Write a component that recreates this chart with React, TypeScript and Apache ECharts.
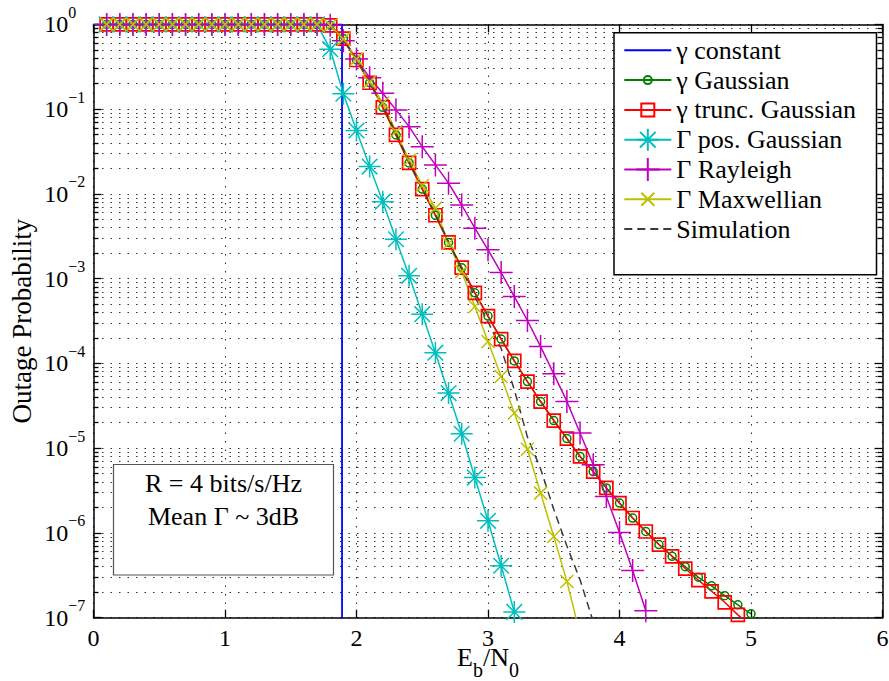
import React, { useEffect, useRef } from "react";
import * as echarts from "echarts";

// Eb/N0 grid shared by every curve (0.0 … 5.0 in steps of 0.1)
const ebn0 = [
  0, 0.1, 0.2, 0.3, 0.4, 0.5, 0.6, 0.7, 0.8, 0.9, 1.0, 1.1, 1.2, 1.3, 1.4, 1.5,
  1.6, 1.7, 1.8, 1.9, 2.0, 2.1, 2.2, 2.3, 2.4, 2.5, 2.6, 2.7, 2.8, 2.9, 3.0,
  3.1, 3.2, 3.3, 3.4, 3.5, 3.6, 3.7, 3.8, 3.9, 4.0, 4.1, 4.2, 4.3, 4.4, 4.5,
  4.6, 4.7, 4.8, 4.9, 5.0,
];

// γ constant: a hard threshold
const constantEbn0 = [0, 1.89, 1.89];
const constantOutage = [1, 1, 1e-9];

// outage probabilities, indexed like ebn0 (null = not simulated at that point)
const gaussianOutage = [
  null, 1, 1, 1, 1, 1, 1, 1, 1, 1, 1, 1, 1, 1, 1, 1, 1, 1,
  0.975, 0.68, 0.38, 0.205, 0.105, 0.0497, 0.0232, 0.0114, 0.0056, 0.00268,
  0.00135, 6.8e-4, 3.62e-4, 1.94e-4, 1.07e-4, 6.1e-5, 3.55e-5, 2.12e-5, 1.3e-5,
  8.0e-6, 5.3e-6, 3.4e-6, 2.25e-6, 1.5e-6, 1.04e-6, 7.3e-7, 5.3e-7, 4.0e-7,
  3.0e-7, 2.38e-7, 1.82e-7, 1.42e-7, 1.11e-7,
];
const truncGaussianOutage = [
  null, 1, 1, 1, 1, 1, 1, 1, 1, 1, 1, 1, 1, 1, 1, 1, 1, 1,
  0.975, 0.68, 0.38, 0.205, 0.105, 0.0497, 0.0232, 0.0114, 0.0056, 0.00268,
  0.00135, 6.8e-4, 3.62e-4, 1.94e-4, 1.07e-4, 6.1e-5, 3.55e-5, 2.12e-5, 1.3e-5,
  8.0e-6, 5.3e-6, 3.4e-6, 2.25e-6, 1.5e-6, 1.04e-6, 7.3e-7, 5.3e-7, 3.8e-7,
  2.77e-7, 2.05e-7, 1.52e-7, 1.08e-7, 8e-8,
];
const posGaussianOutage = [
  null, 1, 1, 1, 1, 1, 1, 1, 1, 1, 1, 1, 1, 1, 1, 1, 1, 1,
  0.51, 0.152, 0.056, 0.021, 0.0081, 0.00292, 0.00108, 3.81e-4, 1.34e-4,
  4.47e-5, 1.48e-5, 4.5e-6, 1.39e-6, 4.1e-7, 1.17e-7,
];
const rayleighOutage = [
  null, 1, 1, 1, 1, 1, 1, 1, 1, 1, 1, 1, 1, 1, 1, 1, 1, 1,
  0.98, 0.64, 0.39, 0.235, 0.154, 0.098, 0.0622, 0.0361, 0.022, 0.0134, 0.0074,
  3.94e-3, 2.19e-3, 1.18e-3, 6.15e-4, 3.21e-4, 1.58e-4, 7.54e-5, 3.56e-5,
  1.51e-5, 6.37e-6, 2.69e-6, 1.01e-6, 3.61e-7, 1.21e-7,
];
const maxwellianOutage = [
  null, 1, 1, 1, 1, 1, 1, 1, 1, 1, 1, 1, 1, 1, 1, 1, 1, 1,
  0.97, 0.67, 0.39, 0.21, 0.118, 0.054, 0.025, 0.0125, 0.0068, 0.0026, 1.21e-3,
  4.7e-4, 1.81e-4, 7.0e-5, 2.6e-5, 9.7e-6, 2.95e-6, 9.1e-7, 2.68e-7, 6.4e-8,
];
const simulationOutage = [
  1, 1, 1, 1, 1, 1, 1, 1, 1, 1, 1, 1, 1, 1, 1, 1, 1, 1,
  0.97, 0.67, 0.39, 0.21, 0.11, 0.052, 0.024, 0.0118, 0.0058, 0.0027, 1.3e-3,
  6.1e-4, 3.1e-4, 1.5e-4, 4.9e-5, 1.35e-5, 5.7e-6, 1.9e-6, 7e-7, 2.8e-7, 9e-8,
];

const seriesNames = [
  "γ constant",
  "γ Gaussian",
  "γ trunc. Gaussian",
  "Γ pos. Gaussian",
  "Γ Rayleigh",
  "Γ Maxwellian",
  "Simulation",
];

const xTicks = [0, 1, 2, 3, 4, 5, 6];
const decades = [1e-7, 1e-6, 1e-5, 1e-4, 1e-3, 1e-2, 1e-1, 1];
const minorMultipliers = [2, 3, 4, 5, 6, 7, 8, 9];

const annotationLines = ["R = 4 bits/s/Hz", "Mean Γ ~ 3dB"];

const FONT = "'Liberation Serif', 'Times New Roman', serif";

// marker outlines drawn inside a common 24×24 frame so that one symbolSize fits all
const FRAME = "M0,0 M24,24 ";
const MARK = {
  none: "path://M0,0 M24,24",
  circle: "path://" + FRAME + "M8,12 A4,4 0 1 1 16,12 A4,4 0 1 1 8,12 Z",
  square: "path://" + FRAME + "M5.5,5.5 L18.5,5.5 L18.5,18.5 L5.5,18.5 Z",
  star:
    "path://" +
    FRAME +
    "M1,12 L23,12 M12,1 L12,23 M4.2,4.2 L19.8,19.8 M4.2,19.8 L19.8,4.2",
  plus: "path://" + FRAME + "M0.5,12 L23.5,12 M12,0.5 L12,23.5",
  cross: "path://" + FRAME + "M5.5,5.5 L18.5,18.5 M5.5,18.5 L18.5,5.5",
};

function pairs(xs: number[], ys: (number | null)[]) {
  const out: [number, number][] = [];
  ys.forEach((y, i) => {
    if (y !== null) out.push([xs[i], y]);
  });
  return out;
}

function curve(
  name: string,
  data: [number, number][],
  color: string,
  symbol: string,
  extra: Record<string, unknown> = {}
) {
  return {
    type: "line",
    name,
    data,
    xAxisIndex: 0,
    yAxisIndex: 0,
    symbol,
    symbolSize: 24,
    showSymbol: symbol !== MARK.none,
    lineStyle: { color, width: 1.5 },
    itemStyle: { color: "transparent", borderColor: color, borderWidth: 1.5 },
    emphasis: { disabled: true },
    silent: true,
    z: 2,
    ...extra,
  };
}

function exponentText(v: number) {
  const e = Math.round(Math.log10(v));
  return e === 0 ? "0" : "−" + Math.abs(e);
}

// plot box and the raise of the decade exponents above their "10"
const PLOT = { left: 93.5, right: 6.5, top: 24.4, bottom: 63.3 };
const SUP_RAISE = 12;

function buildOption() {
  const minorTicks: number[] = [];
  decades.slice(0, -1).forEach((d) =>
    minorMultipliers.forEach((m) => minorTicks.push(m * d))
  );

  const axisLine = { color: "#000", width: 1.5 };
  const dotted = { color: "#333", width: 1.1, type: [1.5, 7] };
  const tickStyle = { color: "#000", width: 1.3 };
  const labelGap = 25.2;

  const logBase = {
    type: "log",
    logBase: 10,
    min: decades[0],
    max: decades[decades.length - 1],
    splitNumber: 7,
  };
  const hidden = {
    axisLine: { show: false, onZero: false },
    axisTick: { show: false },
    axisLabel: { show: false },
    splitLine: { show: false },
  };

  return {
    animation: false,
    textStyle: { fontFamily: FONT },
    grid: [
      { ...PLOT, containLabel: false, outerBoundsMode: "none" },
      // same box shifted up: carries only the exponent labels
      {
        left: PLOT.left,
        right: PLOT.right,
        top: PLOT.top - SUP_RAISE,
        bottom: PLOT.bottom + SUP_RAISE,
        containLabel: false,
        outerBoundsMode: "none",
      },
    ],
    xAxis: [
      {
        type: "value",
        gridIndex: 0,
        min: xTicks[0],
        max: xTicks[xTicks.length - 1],
        interval: 1,
        position: "bottom",
        axisLine: { show: true, onZero: false, lineStyle: axisLine },
        axisTick: { show: true, inside: true, length: 8, lineStyle: tickStyle },
        axisLabel: {
          show: true,
          margin: 13,
          fontSize: 24,
          lineHeight: 14,
          color: "#000",
          fontFamily: FONT,
        },
        splitLine: { show: true, lineStyle: dotted },
        name: "{m|E}{sub|b}{m|/N}{sub|0}",
        nameLocation: "middle",
        nameGap: 27,
        nameMoveOverlap: false,
        nameTextStyle: {
          color: "#000",
          fontFamily: FONT,
          fontSize: 26,
          rich: {
            m: { fontSize: 26, lineHeight: 26, fontFamily: FONT, color: "#000" },
            sub: {
              fontSize: 20,
              lineHeight: 20,
              padding: [24, 0, 0, 0],
              fontFamily: FONT,
              color: "#000",
            },
          },
        },
      },
      {
        type: "value",
        gridIndex: 0,
        min: xTicks[0],
        max: xTicks[xTicks.length - 1],
        interval: 1,
        position: "top",
        axisLine: { show: true, onZero: false, lineStyle: axisLine },
        axisTick: { show: true, inside: true, length: 8, lineStyle: tickStyle },
        axisLabel: { show: false },
        splitLine: { show: false },
      },
      {
        type: "value",
        gridIndex: 1,
        min: xTicks[0],
        max: xTicks[xTicks.length - 1],
        show: false,
        ...hidden,
      },
    ],
    yAxis: [
      {
        // decades: ticks, grid and the "10" base of each label
        ...logBase,
        gridIndex: 0,
        position: "left",
        axisLine: { show: true, onZero: false, lineStyle: axisLine },
        axisTick: { show: true, inside: true, length: 8, lineStyle: tickStyle },
        axisLabel: {
          show: true,
          margin: labelGap,
          fontSize: 24,
          color: "#000",
          fontFamily: FONT,
          formatter: () => "10",
        },
        splitLine: { show: true, lineStyle: dotted },
        name: "Outage Probability",
        nameLocation: "middle",
        nameGap: 58,
        nameMoveOverlap: false,
        nameTextStyle: { fontSize: 27, color: "#000", fontFamily: FONT },
      },
      {
        // minor ticks and grid
        ...logBase,
        gridIndex: 0,
        position: "left",
        axisLine: { show: false, onZero: false },
        axisTick: {
          show: true,
          inside: true,
          length: 5,
          lineStyle: tickStyle,
          customValues: minorTicks,
        },
        axisLabel: { show: false },
        splitLine: { show: true, lineStyle: dotted },
      },
      {
        ...logBase,
        gridIndex: 0,
        position: "right",
        axisLine: { show: true, onZero: false, lineStyle: axisLine },
        axisTick: { show: true, inside: true, length: 8, lineStyle: tickStyle },
        axisLabel: { show: false },
        splitLine: { show: false },
      },
      {
        ...logBase,
        gridIndex: 0,
        position: "right",
        axisLine: { show: false, onZero: false },
        axisTick: {
          show: true,
          inside: true,
          length: 5,
          lineStyle: tickStyle,
          customValues: minorTicks,
        },
        axisLabel: { show: false },
        splitLine: { show: false },
      },
      {
        // exponents of the decade labels
        ...logBase,
        gridIndex: 1,
        position: "left",
        axisLine: { show: false, onZero: false },
        axisTick: { show: false },
        splitLine: { show: false },
        axisLabel: {
          show: true,
          margin: labelGap,
          align: "left",
          fontSize: 16,
          color: "#000",
          fontFamily: FONT,
          formatter: exponentText,
        },
      },
    ],
    legend: {
      orient: "vertical",
      left: 623.3,
      top: 37.3,
      padding: 0,
      itemGap: 3.8,
      itemWidth: 47,
      itemHeight: 30,
      selectedMode: false,
      z: 20,
      textStyle: { fontSize: 26, color: "#000", fontFamily: FONT },
      data: seriesNames,
    },
    graphic: [
      {
        type: "rect",
        z: 10,
        shape: { x: 614, y: 32.7, width: 262.5, height: 242 },
        style: { fill: "#fff", stroke: "#000", lineWidth: 1.5 },
      },
      {
        type: "rect",
        z: 10,
        shape: { x: 113.5, y: 464.5, width: 220, height: 110.5 },
        style: { fill: "#fff", stroke: "#555", lineWidth: 1.2 },
      },
      ...annotationLines.map((t, i) => ({
        type: "text",
        z: 11,
        x: 223.5,
        y: 483 + i * 33.7,
        style: {
          text: t,
          fontSize: 26,
          fontFamily: FONT,
          fill: "#000",
          align: "center",
          verticalAlign: "middle",
        },
      })),
    ],
    series: [
      curve(seriesNames[0], pairs(constantEbn0, constantOutage), "#0000ff", MARK.none, {
        lineStyle: { color: "#0000ff", width: 1.8 },
      }),
      curve(seriesNames[1], pairs(ebn0, gaussianOutage), "#008000", MARK.circle),
      curve(seriesNames[2], pairs(ebn0, truncGaussianOutage), "#ff0000", MARK.square, {
        itemStyle: { color: "transparent", borderColor: "#ff0000", borderWidth: 1.7 },
      }),
      curve(seriesNames[3], pairs(ebn0, posGaussianOutage), "#00bfbf", MARK.star),
      curve(seriesNames[4], pairs(ebn0, rayleighOutage), "#bf00bf", MARK.plus),
      curve(seriesNames[5], pairs(ebn0, maxwellianOutage), "#bfbf00", MARK.cross),
      curve(seriesNames[6], pairs(ebn0, simulationOutage), "#3a3a3a", MARK.none, {
        lineStyle: { color: "#3a3a3a", width: 1.5, type: [8, 5] },
      }),
    ],
  };
}

export default function App() {
  const ref = useRef<HTMLDivElement>(null);
  useEffect(() => {
    document.body.style.margin = "0";
    const chart = echarts.init(ref.current!, null, { renderer: "svg" });
    chart.setOption(buildOption() as any);
    return () => chart.dispose();
  }, []);
  return <div ref={ref} style={{ width: 889, height: 681 }} />;
}
